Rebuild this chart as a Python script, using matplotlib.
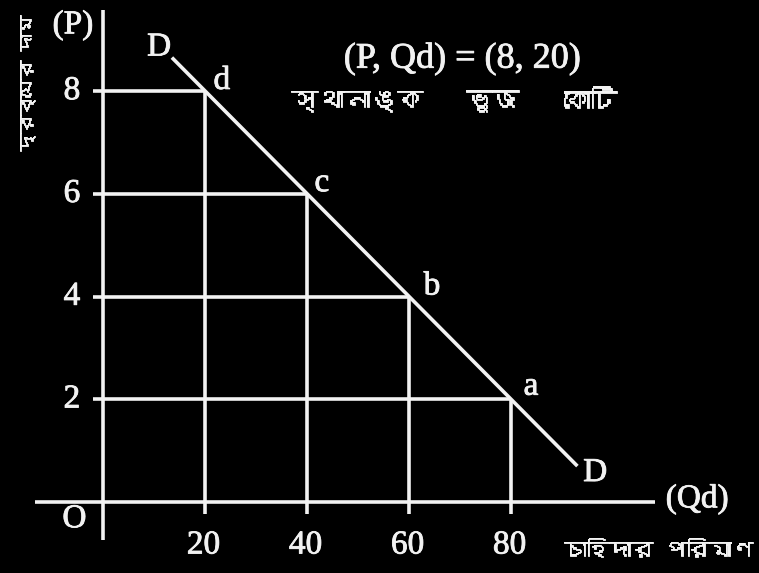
import matplotlib
matplotlib.use("Agg")
import matplotlib.pyplot as plt
import matplotlib.patheffects as pe
from matplotlib import font_manager as fm
from matplotlib.ft2font import FT2Font

# Demand schedule: price (P) and quantity demanded (Qd)
point_names = ["d", "c", "b", "a"]
price = [8, 6, 4, 2]
quantity = [20, 40, 60, 80]
x_ticks = [20, 40, 60, 80]
y_ticks = [8, 6, 4, 2]
curve_q = [13.5, 93.0]          # extent of the demand line D-D
curve_p = [10 - q / 10 for q in curve_q]

y_title = "দ্রব্যের দাম"
x_title = "চাহিদার পরিমাণ"
note_top = "(P, Qd) = (8, 20)"
note_words = ["স্থানাঙ্ক", "ভুজ", "কোটি"]


def bengali_family():
    """Return an installed family that covers Bengali script, if any."""
    for f in fm.fontManager.ttflist:
        try:
            if 0x0995 in FT2Font(f.fname).get_charmap():
                return f.name
        except Exception:
            continue
    return None


bn = bengali_family()
bn_fam = [bn, "DejaVu Sans"] if bn else ["Noto Sans", "DejaVu Sans"]
serif = "Liberation Serif"
fg = "#f2f2f2"
thick = [pe.withStroke(linewidth=0.6, foreground=fg)]

fig = plt.figure(figsize=(7.59, 5.73), dpi=100, facecolor="black")
ax = fig.add_axes([0, 0, 1, 1])
ax.set_facecolor("black")
ax.set_xlim(-20.2, 128.6)
ax.set_ylim(-1.38, 9.77)
ax.axis("off")

lw = 2.6
# Axes
ax.plot([0, 0], [-0.74, 9.57], color=fg, lw=lw, solid_capstyle="butt")
ax.plot([-13.3, 108.2], [0, 0], color=fg, lw=lw, solid_capstyle="butt")

# Guide lines from each point to the axes
for q, p in zip(quantity, price):
    ax.plot([-2.0, q], [p, p], color=fg, lw=lw, solid_capstyle="butt")
    ax.plot([q, q], [p, -0.24], color=fg, lw=lw, solid_capstyle="butt")

# Demand curve
ax.plot(curve_q, curve_p, color=fg, lw=lw, solid_capstyle="butt")

fs = 24
tk = dict(color=fg, family=serif, fontsize=fs, ha="center", va="center",
          path_effects=thick)
for t in x_ticks:
    ax.text(t - 0.3, -0.84, str(t), **tk)
for t in y_ticks:
    ax.text(-6.1, t, str(t), **tk)
ax.text(-5.6, -0.33, "O", **tk)

# Point labels
offsets = {"d": (3.3, 0.2), "c": (2.9, 0.21), "b": (4.5, 0.2), "a": (3.9, 0.25)}
for n, q, p in zip(point_names, quantity, price):
    dx, dy = offsets[n]
    ax.text(q + dx, p + dy, n, **tk)
ax.text(11.0, 8.85, "D", **tk)
ax.text(96.5, 0.57, "D", **tk)

ax.text(116.5, 0.06, "(Qd)", **tk)
ax.text(-5.9, 9.28, "(P)", **tk)
ax.text(70.4, 8.62, note_top, **dict(tk, fontsize=26))

bn_kw = dict(color=fg, family=bn_fam, fontsize=19, ha="center", va="center",
             fontweight="bold", path_effects=thick)
for w, q in zip(note_words, [49.8, 76.3, 95.5]):
    ax.text(q, 7.80, w, **bn_kw)
ax.text(109.0, -0.93, x_title, **dict(bn_kw, fontsize=16))
ax.text(-14.8, 8.15, y_title, rotation=90, **dict(bn_kw, fontsize=13))

fig.savefig("out.png", dpi=100, facecolor="black")
